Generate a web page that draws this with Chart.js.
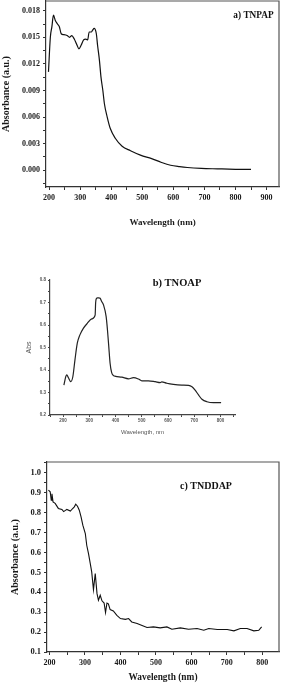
<!DOCTYPE html>
<html><head><meta charset="utf-8">
<script src="https://cdn.jsdelivr.net/npm/chart.js@4.4.1/dist/chart.umd.min.js"></script>
<style>
html,body{margin:0;padding:0;background:#fff;width:285px;height:685px;overflow:hidden}
canvas{position:absolute;left:0;display:block}
</style></head><body>
<canvas id="ca" width="285" height="228" style="top:0px"></canvas>
<canvas id="cb" width="285" height="206" style="top:230px"></canvas>
<canvas id="cc" width="285" height="243" style="top:440px"></canvas>
<script>
// ---- Panel a) TNPAP ----
const wlA = [198,204,209,214,220,227,233,239,247,258,266,273,281,290,296,303,311,318,324,329,336,340,345,352,356,362,367,373,378,387,397,413,435,462,494,530,560,591,620,645,690,742,800,850];
const absA = [0.0111,0.0150,0.0162,0.0175,0.0169,0.0165,0.0162,0.0154,0.0153,0.0152,0.0150,0.0152,0.0148,0.0141,0.0137,0.0141,0.0147,0.0148,0.0147,0.0156,0.0156,0.0158,0.0160,0.0154,0.0141,0.0124,0.0105,0.0090,0.0075,0.0060,0.0047,0.0036,0.0027,0.0022,0.0017,0.0013,0.0009,0.00056,0.0004,0.0003,0.0002,0.00015,0.0001,0.00008];
const xTicksA = [200,300,400,500,600,700,800,900];
const yTicksA = [0.000,0.003,0.006,0.009,0.012,0.015,0.018];

// ---- Panel b) TNOAP ----
const wlB = [203,207,210,214,220,229,237,245,254,264,277,292,309,322,324,327,331,336,341,347,354,364,369,374,379,385,392,400,424,449,468,487,500,525,551,570,576,595,620,652,678,691,703,716,729,748,773,802];
const absB = [0.333,0.355,0.370,0.378,0.366,0.348,0.370,0.444,0.519,0.556,0.585,0.607,0.627,0.644,0.700,0.718,0.721,0.721,0.719,0.704,0.689,0.637,0.578,0.504,0.430,0.388,0.375,0.372,0.368,0.361,0.366,0.360,0.352,0.352,0.348,0.344,0.347,0.341,0.336,0.333,0.332,0.326,0.311,0.289,0.270,0.259,0.255,0.255];
const xTicksB = [200,300,400,500,600,700,800];
const yTicksB = [0.2,0.3,0.4,0.5,0.6,0.7,0.8];

// ---- Panel c) TNDDAP ----
const wlC = [197,202,205,207,210,216,225,235,240,249,259,264,270,274,279,284,289,294,301,305,310,315,319,324,329,334,338,343,348,354,358,362,366,371,380,390,400,414,423,432,447,461,475,493,512,531,545,569,592,616,635,649,673,701,720,738,757,776,790,798];
const absC = [0.913,0.904,0.862,0.894,0.854,0.846,0.821,0.816,0.805,0.816,0.808,0.818,0.829,0.842,0.832,0.812,0.778,0.737,0.695,0.636,0.594,0.544,0.502,0.413,0.494,0.393,0.360,0.385,0.357,0.346,0.298,0.346,0.342,0.313,0.306,0.284,0.268,0.264,0.268,0.251,0.243,0.233,0.223,0.226,0.221,0.226,0.214,0.221,0.214,0.218,0.209,0.218,0.213,0.213,0.206,0.218,0.218,0.206,0.209,0.226];
const xTicksC = [200,300,400,500,600,700,800];
const yTicksC = [0.1,0.2,0.3,0.4,0.5,0.6,0.7,0.8,0.9,1.0];

const SERIF = "'Liberation Serif','Times New Roman',serif";
const SANS = "'Liberation Sans',Arial,sans-serif";

function withMinors(major, min, max) {
  const step = major[1] - major[0];
  const all = [];
  for (let i = -1; i < major.length; i++) {
    const m = (i >= 0 ? major[i] : major[0] - step);
    if (i >= 0) all.push(m);
    const mid = m + step / 2;
    if (mid >= min - 1e-9 && mid <= max + 1e-9) all.push(mid);
  }
  return all.filter(v => v >= min - 1e-9 && v <= max + 1e-9).sort((a, b) => a - b);
}
function isMajor(v, major) {
  return major.some(m => Math.abs(m - v) < 1e-9);
}

function axis(o) {
  const all = withMinors(o.major, o.min, o.max);
  return {
    type: 'linear', min: o.min, max: o.max,
    afterBuildTicks: s => { s.ticks = all.map(v => ({ value: v })); },
    afterFit: s => {
      if (o.w != null) s.width = o.w;
      if (o.h != null) s.height = o.h;
      s.paddingTop = 0; s.paddingBottom = 0; s.paddingLeft = 0; s.paddingRight = 0;
    },
    ticks: {
      autoSkip: false, maxRotation: 0, minRotation: 0, padding: o.pad,
      font: o.font, color: o.color,
      callback: v => isMajor(v, o.major) ? o.fmt(v) : ''
    },
    grid: { display: true, drawOnChartArea: false, drawTicks: true, tickLength: o.tl, tickColor: o.axisColor, tickWidth: 1 },
    border: { display: true, color: o.axisColor, width: 1.2 },
    title: { display: true, text: o.title, font: o.tfont, color: o.color, padding: 0 }
  };
}

const panelPlugin = {
  id: 'panel',
  afterDraw(chart, args, opts) {
    const ctx = chart.ctx, a = chart.chartArea;
    ctx.save();
    if (opts.box) {
      ctx.strokeStyle = opts.boxColor; ctx.lineWidth = 1.2;
      ctx.beginPath();
      ctx.moveTo(a.left, a.top); ctx.lineTo(a.right, a.top); ctx.lineTo(a.right, a.bottom);
      ctx.stroke();
    }
    ctx.fillStyle = '#111';
    ctx.font = opts.font;
    ctx.textAlign = 'center'; ctx.textBaseline = 'middle';
    ctx.fillText(opts.text, opts.x, opts.y);
    ctx.restore();
  }
};

function make(id, xs, ys, xcfg, ycfg, pad, panel, line) {
  return new Chart(document.getElementById(id), {
    type: 'line',
    data: { datasets: [{ data: xs.map((x, i) => ({ x: x, y: ys[i] })), borderColor: line.color, borderWidth: line.width,
      pointRadius: 0, fill: false, cubicInterpolationMode: line.mono ? 'monotone' : 'default', tension: line.mono ? 0.4 : 0 }] },
    options: {
      responsive: false, animation: false, devicePixelRatio: 1,
      layout: { padding: pad },
      plugins: { legend: { display: false }, tooltip: { enabled: false }, panel: panel },
      scales: { x: xcfg, y: ycfg }
    },
    plugins: [panelPlugin]
  });
}

// Panel a
make('ca', wlA, absA,
  axis({ min: 190, max: 940, major: xTicksA, fmt: v => String(Math.round(v)), w: null, h: 41, pad: 3, tl: 3,
    font: { family: SERIF, size: 8, weight: 'bold' }, color: '#1a1a1a', axisColor: '#333',
    title: 'Wavelength (nm)', tfont: { family: SERIF, size: 9, weight: 'bold' } }),
  axis({ min: -0.0019, max: 0.0191, major: yTicksA, fmt: v => v.toFixed(3), w: 46, h: null, pad: 3, tl: 3,
    font: { family: SERIF, size: 8, weight: 'bold' }, color: '#1a1a1a', axisColor: '#333',
    title: 'Absorbance (a.u.)', tfont: { family: SERIF, size: 10, weight: 'bold' } }),
  { left: 0, right: 6, top: 1, bottom: 0 },
  { box: true, boxColor: '#555', text: 'a) TNPAP', x: 253.5, y: 15.7, font: "bold 9.3px " + SERIF },
  { color: '#111', width: 1.2, mono: true });

// Panel b
make('cb', wlB, absB,
  axis({ min: 150, max: 855, major: xTicksB, fmt: v => String(Math.round(v)), w: null, h: 21, pad: 1, tl: 2,
    font: { family: SANS, size: 4.5, weight: 'bold' }, color: '#555', axisColor: '#444',
    title: 'Wavelength, nm', tfont: { family: SANS, size: 6 } }),
  axis({ min: 0.2, max: 0.8, major: yTicksB, fmt: v => v.toFixed(1), w: 25, h: null, pad: 2, tl: 2,
    font: { family: SANS, size: 4.5, weight: 'bold' }, color: '#555', axisColor: '#444',
    title: 'Abs', tfont: { family: SANS, size: 7 } }),
  { left: 25, right: 50, top: 50, bottom: 0 },
  { box: false, text: 'b) TNOAP', x: 177, y: 53, font: "bold 10.5px " + SERIF },
  { color: '#222', width: 1.2, mono: true });

// Panel c
make('cc', wlC, absC,
  axis({ min: 193, max: 847, major: xTicksC, fmt: v => String(Math.round(v)), w: null, h: 31, pad: 3, tl: 3,
    font: { family: SERIF, size: 8, weight: 'bold' }, color: '#1a1a1a', axisColor: '#333',
    title: 'Wavelength (nm)', tfont: { family: SERIF, size: 9.4, weight: 'bold' } }),
  axis({ min: 0.1, max: 1.054, major: yTicksC, fmt: v => v.toFixed(1), w: 38, h: null, pad: 3, tl: 3,
    font: { family: SERIF, size: 8.5, weight: 'bold' }, color: '#1a1a1a', axisColor: '#333',
    title: 'Absorbance (a.u.)', tfont: { family: SERIF, size: 10, weight: 'bold' } }),
  { left: 9, right: 6, top: 22, bottom: 0 },
  { box: true, boxColor: '#555', text: 'c) TNDDAP', x: 206, y: 46.7, font: "bold 10px " + SERIF },
  { color: '#111', width: 1.1, mono: false });
</script>
</body></html>
